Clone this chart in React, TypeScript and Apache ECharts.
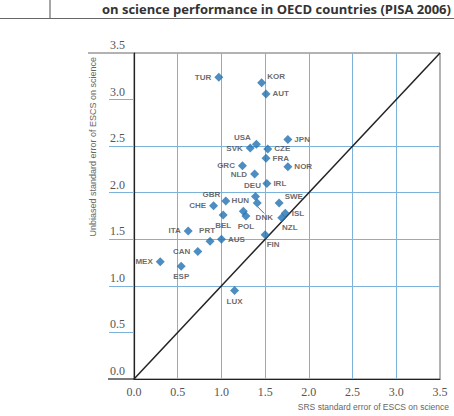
import React, { useEffect, useRef } from "react";
import * as echarts from "echarts";

const countries = ["TUR","KOR","AUT","USA","JPN","SVK","CZE","FRA","GRC","NOR","NLD","IRL","DEU","DNK","SWE","GBR","CHE","HUN","POL","BEL","ISL","NZL","ITA","PRT","AUS","FIN","CAN","MEX","ESP","LUX"];
const srsError = [0.97,1.46,1.51,1.40,1.76,1.33,1.53,1.51,1.24,1.76,1.38,1.52,1.39,1.41,1.66,1.05,0.91,1.25,1.28,1.02,1.73,1.69,0.62,0.87,1.00,1.50,0.73,0.30,0.54,1.15];
const unbiasedError = [3.24,3.18,3.06,2.52,2.57,2.48,2.47,2.37,2.29,2.28,2.20,2.10,1.96,1.89,1.89,1.91,1.86,1.80,1.75,1.76,1.78,1.73,1.59,1.48,1.50,1.55,1.37,1.26,1.21,0.95];
const labelSides = ["left","topRight","right","topLeft","right","left","right","right","left","right","left","right","top","leader","topRight","topLeft","left","top","bottom","bottom","right","bottomRight","left","top","right","bottomRight","left","left","bottom","bottom"];
const diagonal = [[0, 0], [3.5, 3.5]];
const tickValues = [0, 0.5, 1, 1.5, 2, 2.5, 3, 3.5];
const gridValues = [0.5, 1, 1.5, 2, 2.5, 3];

const titleText = "on science performance in OECD countries (PISA 2006)";
const xName = "SRS standard error of ESCS on science";
const yName = "Unbiased standard error of ESCS on science";

function labelFor(side: string): any {
  switch (side) {
    case "left": return { position: "left", distance: 3, dx: 0, dy: 0 };
    case "right": return { position: "right", distance: 2, dx: 0, dy: 0 };
    case "top": return { position: "top", distance: 2, dx: -3, dy: 0 };
    case "bottom": return { position: "bottom", distance: 2, dx: 0, dy: 0 };
    case "topRight": return { position: "right", distance: 1, dx: 0, dy: -6 };
    case "topLeft": return { position: "left", distance: 1, dx: 0, dy: -7 };
    case "bottomRight": return { position: "bottom", distance: 1, dx: 8, dy: 0 };
    case "leader": return { position: "bottom", distance: 0, dx: 7, dy: 6 };
  }
  return { dx: 0, dy: 0 };
}

export default function App() {
  const ref = useRef<HTMLDivElement>(null);
  useEffect(() => {
    if (!ref.current) return;
    const chart = echarts.init(ref.current, null, { renderer: "svg" });
    const data = countries.map((c, i) => {
      const lf = labelFor(labelSides[i]);
      const item: any = {
        name: c,
        value: [srsError[i], unbiasedError[i]],
        label: { position: lf.position, distance: lf.distance },
      };
      if (labelSides[i] === "leader") {
        item.labelLine = { show: true, lineStyle: { color: "#444", width: 0.8 } };
      }
      return item;
    });
    const axisLabelFont = {
      fontFamily: "'Liberation Serif', 'DejaVu Serif', serif",
      fontSize: 12,
      color: "#555",
    };
    chart.setOption({
      animation: false,
      grid: {
        left: 134,
        right: 14,
        top: 53,
        bottom: 37,
        show: true,
        borderColor: "#666",
        borderWidth: 1,
        backgroundColor: "transparent",
      },
      xAxis: {
        type: "value",
        min: 0,
        max: 3.5,
        interval: 0.5,
        axisLine: { show: true, lineStyle: { color: "#222", width: 1.2 } },
        axisTick: { show: false },
        axisLabel: {
          ...axisLabelFont,
          margin: 7,
          formatter: (v: number) => v.toFixed(1),
          customValues: tickValues,
        },
        splitLine: {
          show: true,
          showMinLine: false,
          showMaxLine: false,
          lineStyle: { color: "#7db3da", width: 1 },
        },
      },
      yAxis: {
        type: "value",
        min: 0,
        max: 3.5,
        interval: 0.5,
        axisLine: { show: true, lineStyle: { color: "#222", width: 1.2 } },
        axisTick: {
          show: true,
          inside: false,
          length: 25,
          customValues: gridValues,
          lineStyle: { color: "#7db3da", width: 1 },
        },
        axisLabel: {
          ...axisLabelFont,
          margin: 9,
          verticalAlign: "bottom",
          padding: [0, 0, 2, 0],
          formatter: (v: number) => v.toFixed(1),
          customValues: tickValues,
        },
        splitLine: {
          show: true,
          showMinLine: false,
          showMaxLine: false,
          lineStyle: { color: "#7db3da", width: 1 },
        },
      },
      series: [
        {
          type: "line",
          data: diagonal,
          symbol: "none",
          lineStyle: { color: "#222", width: 1.5 },
          silent: true,
          z: 2,
        },
        {
          type: "scatter",
          data,
          symbol: "diamond",
          symbolSize: 9,
          itemStyle: { color: "#2070b0" },
          z: 3,
          label: {
            show: true,
            formatter: "{b}",
            fontFamily: "Liberation Sans",
            fontWeight: "bold",
            fontSize: 8,
            color: "#444",
          },
          labelLayout: (params: any) => {
            const lf = labelFor(labelSides[params.dataIndex]);
            return { dx: lf.dx, dy: lf.dy };
          },
        },
      ],
    });
    const p00 = chart.convertToPixel({ gridIndex: 0 }, [0, 0]) as number[];
    const p35 = chart.convertToPixel({ gridIndex: 0 }, [3.5, 3.5]) as number[];
    chart.setOption({
      graphic: [
        { type: "line", shape: { x1: 50, y1: 0, x2: 50, y2: 18 }, style: { stroke: "#888", lineWidth: 1.5 } },
        { type: "line", shape: { x1: 0, y1: 18.5, x2: 454, y2: 18.5 }, style: { stroke: "#666", lineWidth: 1.2 } },
        {
          type: "text",
          x: 102,
          y: 9,
          style: {
            text: titleText,
            font: "bold 13px 'Open Sans'",
            fill: "#333",
            verticalAlign: "middle",
            align: "left",
          },
        },
        { type: "line", shape: { x1: 88, y1: p35[1], x2: p00[0], y2: p35[1] }, style: { stroke: "#666", lineWidth: 1 } },
        { type: "line", shape: { x1: 108, y1: p00[1], x2: p00[0], y2: p00[1] }, style: { stroke: "#222", lineWidth: 1.2 } },
        {
          type: "text",
          x: 449,
          y: 407,
          style: {
            text: xName,
            font: "8.5px 'Liberation Sans'",
            fill: "#666",
            align: "right",
            verticalAlign: "middle",
          },
        },
        {
          type: "text",
          x: 93,
          y: 57,
          rotation: Math.PI / 2,
          style: {
            text: yName,
            font: "9px 'Liberation Sans'",
            fill: "#666",
            align: "right",
            verticalAlign: "middle",
          },
        },
      ],
    });
    return () => chart.dispose();
  }, []);
  return (
    <div
      ref={ref}
      style={{ position: "fixed", left: 0, top: 0, width: 454, height: 416, background: "#fff" }}
    />
  );
}
